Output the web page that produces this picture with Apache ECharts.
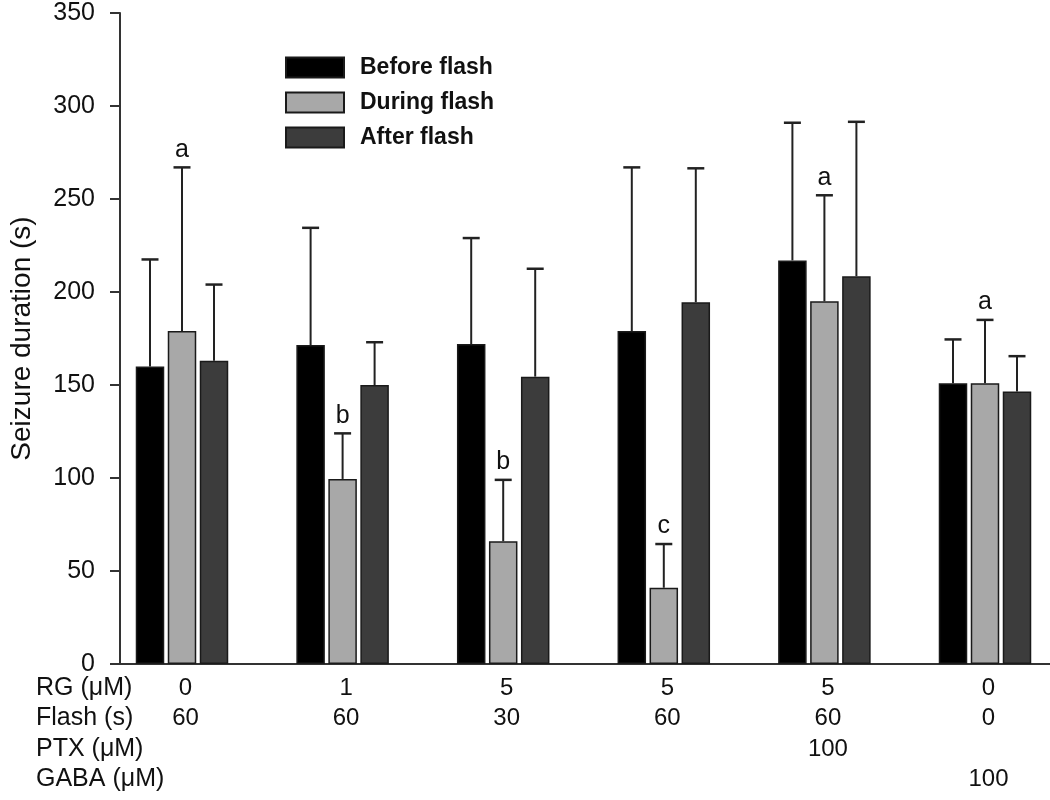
<!DOCTYPE html>
<html><head><meta charset="utf-8">
<script src="https://cdn.jsdelivr.net/npm/echarts@6/dist/echarts.min.js"></script>
<style>html,body{margin:0;padding:0;background:#fff}#c{width:1050px;height:800px}</style>
</head><body><div id="c"></div>
<script>
// ---- data ----
const seriesNames = ['Before flash', 'During flash', 'After flash'];
const rgLabels    = ['0', '1', '5', '5', '5', '0'];
const flashLabels = ['60', '60', '30', '60', '60', '0'];
const ptxLabels   = ['', '', '', '', '100', ''];
const gabaLabels  = ['', '', '', '', '', '100'];
const rowLabels   = ['RG (\u03bcM)', 'Flash (s)', 'PTX (\u03bcM)', 'GABA (\u03bcM)'];

const beforeMean = [160, 171.5, 172, 179, 217, 151];
const beforeErr  = [57.5, 63, 57, 88, 74, 23.5];
const duringMean = [179, 99.5, 66, 41, 195, 151];
const duringErr  = [88, 24.5, 33, 23.5, 57, 34];
const afterMean  = [163, 150, 154.5, 194.5, 208.5, 146.5];
const afterErr   = [41, 23, 58, 72, 83, 19];
const duringLetters = ['a', 'b', 'b', 'c', 'a', 'a'];

const yTicks = { min: 0, max: 350, interval: 50 };

// ---- style constants ----
const FONT = '"Liberation Sans", Arial, Helvetica, sans-serif';
const BAR_W = 28.5, BAR_GAP = 3.5, CAP = 8.5;
const colors = ['#000000', '#a8a8a8', '#3c3c3c'];

const cats = rgLabels.map((_, i) => i);
const means = [beforeMean, duringMean, afterMean];
const errs = [beforeErr, duringErr, afterErr];
const letters = [[], duringLetters, []];

function errRender(k) {
  return function (params, api) {
    const i = api.value(0), m = api.value(1), e = api.value(2);
    const base = api.coord([i, m]);
    const top = api.coord([i, m + e]);
    const x = base[0] + (k - 1) * (BAR_W + BAR_GAP);
    const children = [
      { type: 'line', shape: { x1: x, y1: base[1], x2: x, y2: top[1] }, style: { stroke: '#222', lineWidth: 2 } },
      { type: 'line', shape: { x1: x - CAP, y1: top[1], x2: x + CAP, y2: top[1] }, style: { stroke: '#222', lineWidth: 2.5 } }
    ];
    const L = letters[k][params.dataIndex];
    if (L) children.push({ type: 'text', x: x, y: top[1] - 5,
      style: { text: L, fontSize: 25, fontFamily: FONT, fill: '#111', align: 'center', verticalAlign: 'bottom' } });
    return { type: 'group', children };
  };
}

const series = [];
for (let k = 0; k < 3; k++) {
  series.push({
    name: seriesNames[k], type: 'bar', xAxisIndex: 0, yAxisIndex: 0, clip: false,
    barWidth: BAR_W, barGap: (BAR_GAP / BAR_W * 100) + '%',
    itemStyle: { color: colors[k], borderColor: '#1a1a1a', borderWidth: 1.5 },
    data: means[k], z: 3
  });
}
for (let k = 0; k < 3; k++) {
  series.push({
    type: 'custom', xAxisIndex: 0, yAxisIndex: 0, z: 2, clip: false,
    renderItem: errRender(k),
    encode: { x: 0, y: 1 },
    data: cats.map(i => [i, means[k][i], errs[k][i]])
  });
}

const chart = echarts.init(document.getElementById('c'), null, { renderer: 'canvas' });
chart.setOption({
  animation: false,
  backgroundColor: '#fff',
  textStyle: { fontFamily: FONT },
  title: {
    text: rowLabels.join('\n'), left: 36, top: 672.5, padding: 0,
    textStyle: { fontSize: 25, fontWeight: 'normal', color: '#111', lineHeight: 30.5, fontFamily: FONT }
  },
  legend: {
    data: seriesNames, orient: 'vertical', left: 285, top: 56, padding: 0,
    itemWidth: 58, itemHeight: 20, itemGap: 12, icon: 'rect',
    textStyle: { fontSize: 23, fontWeight: 'bold', color: '#111', padding: [0, 0, 0, 11], fontFamily: FONT },
    selectedMode: false
  },
  grid: [
    { left: 182, width: 803, top: 13, height: 651 },
    { left: 120, right: 0, top: 13, height: 651 }
  ],
  xAxis: [
    { type: 'category', gridIndex: 0, data: cats, boundaryGap: false,
      axisLine: { show: false }, axisTick: { show: false }, splitLine: { show: false },
      axisLabel: { interval: 0, margin: 9, fontSize: 24, color: '#111', lineHeight: 30.5, padding: [0, 0, 0, 7], fontFamily: FONT,
        formatter: (v, i) => [rgLabels[i], flashLabels[i], ptxLabels[i], gabaLabels[i]].join('\n') } },
    { type: 'value', gridIndex: 1, min: 0, max: 1,
      axisLine: { show: true, onZero: false, lineStyle: { color: '#333', width: 2 } },
      axisTick: { show: false }, axisLabel: { show: false }, splitLine: { show: false } }
  ],
  yAxis: [
    { type: 'value', gridIndex: 0, min: yTicks.min, max: yTicks.max, show: false },
    { type: 'value', gridIndex: 1, min: yTicks.min, max: yTicks.max, interval: yTicks.interval,
      name: 'Seizure duration (s)', nameLocation: 'middle', nameGap: 84,
      nameTextStyle: { fontSize: 28, color: '#111', fontFamily: FONT },
      axisLine: { show: true, lineStyle: { color: '#333', width: 2 } },
      axisTick: { show: true, inside: false, length: 10, lineStyle: { color: '#333', width: 2 } },
      axisLabel: { fontSize: 25, color: '#111', margin: 25, fontFamily: FONT },
      splitLine: { show: false } }
  ],
  series
});
</script>
</body></html>
